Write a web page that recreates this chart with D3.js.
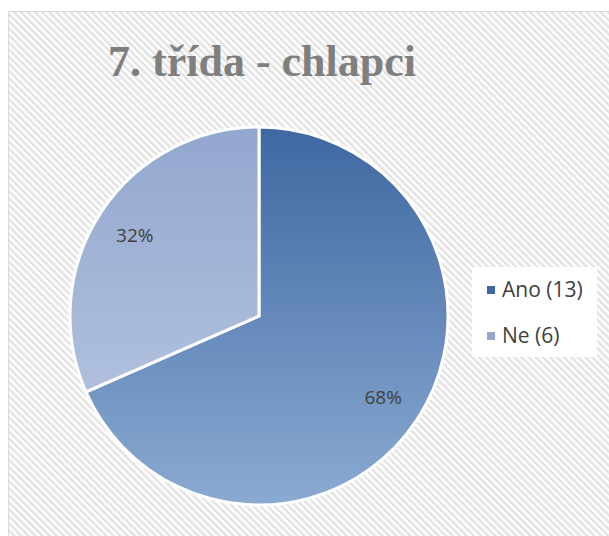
<!DOCTYPE html>
<html>
<head>
<meta charset="utf-8">
<script src="https://cdn.jsdelivr.net/npm/d3@7"></script>
<style>
  body { margin: 0; background: #fff; }
  svg { display: block; }
</style>
</head>
<body>
<div id="chart"></div>
<script>
var categories = ["Ano", "Ne"]
    , counts = [13, 6]
    , title = "7. třída - chlapci";

var width = 609, height = 536
    , cx = 259, cy = 316, radius = 189;

var svg = d3.select("#chart").append("svg")
    .attr("width", width)
    .attr("height", height);

var defs = svg.append("defs");

// diagonal stripe background, running top-left to bottom-right
var pat = defs.append("pattern")
    .attr("id", "hatch")
    .attr("patternUnits", "userSpaceOnUse")
    .attr("width", 5).attr("height", 5)
    .attr("patternTransform", "rotate(-45)");
pat.append("rect").attr("width", 5).attr("height", 5).attr("fill", "#ffffff");
pat.append("rect").attr("width", 2.5).attr("height", 5).attr("fill", "#e3e3e3");

// vertical gradients over the whole pie (relative to pie group)
var grads = [["#3e68a1", "#8aaad2"], ["#93a7cf", "#bccae3"]];
grads.forEach(function (g, i) {
    var lg = defs.append("linearGradient")
        .attr("id", "grad" + i)
        .attr("gradientUnits", "userSpaceOnUse")
        .attr("x1", 0).attr("y1", -radius)
        .attr("x2", 0).attr("y2", radius);
    lg.append("stop").attr("offset", "0%").attr("stop-color", g[0]);
    lg.append("stop").attr("offset", "100%").attr("stop-color", g[1]);
});

svg.append("rect")
    .attr("x", 8.5).attr("y", 11.5)
    .attr("width", width).attr("height", height)
    .attr("fill", "url(#hatch)")
    .attr("stroke", "#d9d9d9");

svg.append("text")
    .attr("x", 262).attr("y", 76)
    .attr("text-anchor", "middle")
    .style("font-family", "'Liberation Serif', 'DejaVu Serif', serif")
    .style("font-weight", "bold")
    .style("font-size", "44px")
    .style("fill", "#7f7f7f")
    .text(title);

var pie = d3.pie().sort(null).value(function (d) { return d; });
var arcs = pie(counts);
var total = d3.sum(counts);

var arc = d3.arc().innerRadius(0).outerRadius(radius);
var labelArc = d3.arc().innerRadius(radius * 0.785).outerRadius(radius * 0.785);

var g = svg.append("g").attr("transform", "translate(" + cx + "," + cy + ")");

g.selectAll("path.slice")
    .data(arcs)
    .enter().append("path")
    .attr("class", "slice")
    .attr("d", arc)
    .attr("fill", function (d, i) { return "url(#grad" + i + ")"; })
    .attr("stroke", "#ffffff")
    .attr("stroke-width", 3);

g.selectAll("text.pct")
    .data(arcs)
    .enter().append("text")
    .attr("class", "pct")
    .attr("transform", function (d) { return "translate(" + labelArc.centroid(d) + ")"; })
    .attr("text-anchor", "middle")
    .attr("dy", "0.35em")
    .style("font-family", "'Open Sans', 'Liberation Sans', sans-serif")
    .style("font-size", "19px")
    .style("fill", "#404040")
    .text(function (d) { return Math.round(d.data / total * 100) + "%"; });

// legend
var legend = svg.append("g").attr("transform", "translate(472,267)");
legend.append("rect")
    .attr("width", 125).attr("height", 90)
    .attr("fill", "#ffffff");

var legendY = d3.scalePoint().domain(categories).range([23, 69]);

var items = legend.selectAll("g.item")
    .data(categories)
    .enter().append("g")
    .attr("class", "item")
    .attr("transform", function (d) { return "translate(0," + legendY(d) + ")"; });

items.append("rect")
    .attr("x", 15).attr("y", -4)
    .attr("width", 8).attr("height", 8)
    .attr("fill", function (d, i) { return grads[i][0]; });

items.append("text")
    .attr("x", 30)
    .attr("dy", "0.35em")
    .style("font-family", "'Open Sans', 'Liberation Sans', sans-serif")
    .style("font-size", "21px")
    .style("fill", "#404040")
    .text(function (d, i) { return d + " (" + counts[i] + ")"; });
</script>
</body>
</html>
